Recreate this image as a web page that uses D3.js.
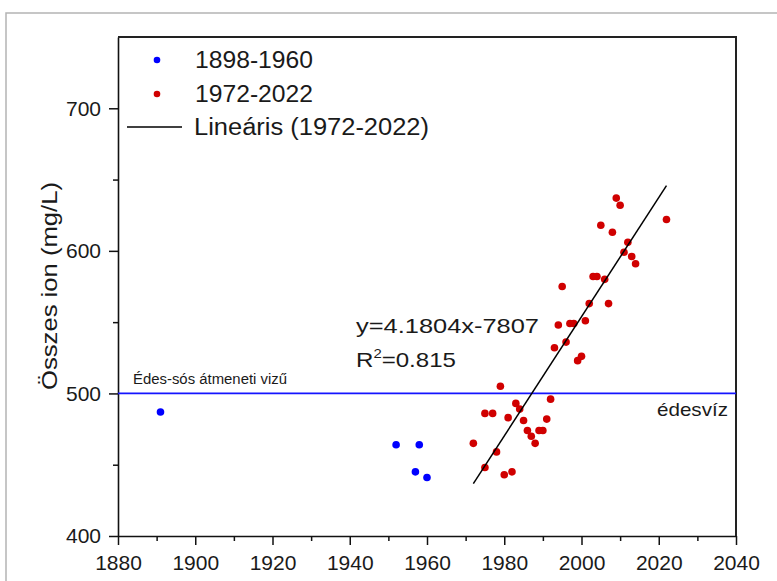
<!DOCTYPE html>
<html lang="hu">
<head>
<meta charset="utf-8">
<title>Összes ion</title>
<script src="https://d3js.org/d3.v7.min.js"></script>
<style>
    body { margin: 0; background: white; }
    svg { display: block; font-family: "Liberation Sans", Arial, sans-serif; }
</style>
</head>
<body>
<svg id="chart" width="777" height="581"></svg>
<script>
// data
const oldYears = [1891, 1952, 1957, 1958, 1960];
const oldValues = [487, 464, 445, 464, 441];

const newYears = [1972, 1975, 1975, 1977, 1978, 1979, 1980, 1981, 1982, 1983,
                  1984, 1985, 1986, 1987, 1988, 1989, 1990, 1991, 1992, 1993,
                  1994, 1995, 1996, 1997, 1998, 1999, 2000, 2001, 2002, 2003,
                  2004, 2005, 2006, 2007, 2008, 2009, 2010, 2011, 2012, 2013,
                  2014, 2022];
const newValues = [465, 448, 486, 486, 459, 505, 443, 483, 445, 493,
                   489, 481, 474, 470, 465, 474, 474, 482, 496, 532,
                   548, 575, 536, 549, 549, 523, 526, 551, 563, 582,
                   582, 618, 580, 563, 613, 637, 632, 599, 606, 596,
                   591, 622];

const xTicks = [1880, 1900, 1920, 1940, 1960, 1980, 2000, 2020, 2040];
const yTicks = [400, 500, 600, 700];

// linear fit of the 1972-2022 series
const slope = 4.1804, intercept = -7807;
const fitRange = [1972, 2022];
const threshold = 500;

const svg = d3.select('#chart');

// grey frame around the figure
svg.append('path')
    .attr('d', 'M6,581 V13 H777')
    .attr('fill', 'none')
    .attr('stroke', '#b4b4b4')
    .attr('stroke-width', 1.5);

const x = d3.scaleLinear().domain([1880, 2040]).range([118, 736]);
const y = d3.scaleLinear().domain([400, 750]).range([536, 37]);

// minor ticks first so the major ones draw on top
svg.append('g')
    .attr('transform', `translate(0,${y(400)})`)
    .call(d3.axisBottom(x).tickValues(d3.range(1890, 2040, 20)).tickSize(5).tickFormat(''))
    .call(g => g.select('.domain').remove());
svg.append('g')
    .attr('transform', `translate(${x(1880)},0)`)
    .call(d3.axisLeft(y).tickValues([450, 550, 650]).tickSize(5).tickFormat(''))
    .call(g => g.select('.domain').remove());

svg.append('g')
    .attr('transform', `translate(0,${y(400)})`)
    .call(d3.axisBottom(x).tickValues(xTicks).tickSize(9).tickSizeOuter(0).tickPadding(10).tickFormat(d3.format('d')));
svg.append('g')
    .attr('transform', `translate(${x(1880)},0)`)
    .call(d3.axisLeft(y).tickValues(yTicks).tickSize(9).tickSizeOuter(0).tickPadding(8));

svg.selectAll('.tick line').attr('stroke', '#111').attr('stroke-width', 1.5);
svg.selectAll('.domain').attr('stroke', '#111').attr('stroke-width', 1.6);
svg.selectAll('.tick text').attr('font-size', 21).attr('fill', '#1a1a1a')
    .attr('font-family', '"Liberation Sans", Arial, sans-serif');

// top and right border of the plot
svg.append('path')
    .attr('d', `M${x(1880)},${y(750)} H${x(2040)} V${y(400)}`)
    .attr('fill', 'none')
    .attr('stroke', '#222')
    .attr('stroke-width', 2);

// 500 mg/L line
svg.append('line')
    .attr('x1', x(1880)).attr('x2', x(2040))
    .attr('y1', y(threshold)).attr('y2', y(threshold))
    .attr('stroke', '#1414ff')
    .attr('stroke-width', 1.8);

svg.append('text')
    .attr('x', 133).attr('y', y(threshold) - 9)
    .attr('font-size', 15.5).attr('fill', '#1a1a1a')
    .attr('textLength', 154).attr('lengthAdjust', 'spacingAndGlyphs')
    .text('Édes-sós átmeneti vizű');
svg.append('text')
    .attr('x', 657).attr('y', y(threshold) + 23)
    .attr('font-size', 18.5).attr('fill', '#1a1a1a')
    .attr('textLength', 71).attr('lengthAdjust', 'spacingAndGlyphs')
    .text('édesvíz');

// points
svg.append('g').selectAll('circle')
    .data(oldYears.map((d, i) => [d, oldValues[i]]))
    .join('circle')
    .attr('cx', d => x(d[0]))
    .attr('cy', d => y(d[1]))
    .attr('r', 3.8)
    .attr('fill', '#0000ff');

svg.append('g').selectAll('circle')
    .data(newYears.map((d, i) => [d, newValues[i]]))
    .join('circle')
    .attr('cx', d => x(d[0]))
    .attr('cy', d => y(d[1]))
    .attr('r', 3.8)
    .attr('fill', '#d00000');

// regression line
svg.append('line')
    .attr('x1', x(fitRange[0])).attr('y1', y(slope * fitRange[0] + intercept))
    .attr('x2', x(fitRange[1])).attr('y2', y(slope * fitRange[1] + intercept))
    .attr('stroke', '#000')
    .attr('stroke-width', 1.5);

// equation
svg.append('text')
    .attr('x', 356).attr('y', 333)
    .attr('font-size', 21).attr('fill', '#1a1a1a')
    .attr('textLength', 183).attr('lengthAdjust', 'spacingAndGlyphs')
    .text('y=4.1804x-7807');
const r2 = svg.append('text')
    .attr('x', 356).attr('y', 367)
    .attr('font-size', 21).attr('fill', '#1a1a1a')
    .attr('textLength', 100).attr('lengthAdjust', 'spacingAndGlyphs');
r2.append('tspan').text('R');
r2.append('tspan').attr('dy', -9).attr('font-size', 13).text('2');
r2.append('tspan').attr('dy', 9).text('=0.815');

// y axis title
svg.append('text')
    .attr('transform', 'translate(57,286) rotate(-90)')
    .attr('text-anchor', 'middle')
    .attr('font-size', 22).attr('fill', '#1a1a1a')
    .attr('textLength', 208).attr('lengthAdjust', 'spacingAndGlyphs')
    .text('Összes ion (mg/L)');

// legend
const legend = svg.append('g').attr('fill', '#1a1a1a').attr('font-size', 23);
legend.append('circle').attr('cx', 157).attr('cy', 60).attr('r', 3.3).attr('fill', '#0000ff');
legend.append('text').attr('x', 195).attr('y', 68)
    .attr('textLength', 118).attr('lengthAdjust', 'spacingAndGlyphs').text('1898-1960');
legend.append('circle').attr('cx', 157).attr('cy', 94).attr('r', 3.3).attr('fill', '#d00000');
legend.append('text').attr('x', 195).attr('y', 102)
    .attr('textLength', 118).attr('lengthAdjust', 'spacingAndGlyphs').text('1972-2022');
legend.append('line').attr('x1', 127).attr('x2', 182).attr('y1', 127).attr('y2', 127)
    .attr('stroke', '#000').attr('stroke-width', 1.5);
legend.append('text').attr('x', 194).attr('y', 135)
    .attr('textLength', 235).attr('lengthAdjust', 'spacingAndGlyphs').text('Lineáris (1972-2022)');
</script>
</body>
</html>
